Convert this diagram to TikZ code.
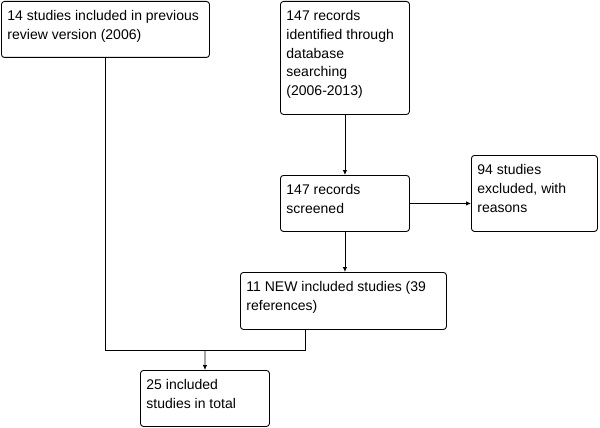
\documentclass[tikz,border=0pt]{standalone}
\usepackage{fontspec}
\setmainfont{Liberation Sans}
\usetikzlibrary{arrows.meta,calc}
\tikzset{
  box/.style={draw, line width=0.9pt, rounded corners=3pt, anchor=north west, inner xsep=6pt, inner ysep=0pt, font=\fontsize{14}{18.6}\selectfont},
  arr/.style={line width=0.9pt, -{Latex[length=5pt,width=4.5pt]}},
  ln/.style={line width=0.9pt}
}
\newcommand\bx[6]{\node[box, minimum width=#4pt, minimum height=#5pt] (#1) at (#2pt,-#3pt) {\parbox[c][#5pt][t]{\dimexpr#4pt-12pt\relax}{\raggedright\rule{0pt}{19.5pt}#6}};}
\begin{document}
\begin{tikzpicture}
\useasboundingbox (0,0) rectangle (600pt,-428pt);
\bx{A}{1}{1}{208}{56}{14 studies included in previous\\review version (2006)}
\bx{B}{280}{1}{129}{113}{147 records\\identified through\\database\\searching\\(2006-2013)}
\bx{C}{280}{175}{129}{56}{147 records\\screened}
\bx{D}{471}{155}{126}{76}{94 studies\\excluded, with\\reasons}
\bx{E}{240}{272}{206}{57}{11 NEW included studies (39\\references)}
\bx{F}{140}{370}{129}{56}{25 included\\studies in total}
\coordinate (j) at (205pt,-350pt);
\coordinate (e1) at ($(E.south west)+(65pt,0)$);
\draw[arr] (B.south) -- (C.north);
\draw[arr] (C.east) -- (C.east -| D.west);
\draw[arr] (C.south) -- (C.south |- E.north);
\draw[ln] (A.south) |- (j);
\draw[ln] (e1) |- (j);
\draw[arr] (j) -- (F.north);
\end{tikzpicture}
\end{document}
